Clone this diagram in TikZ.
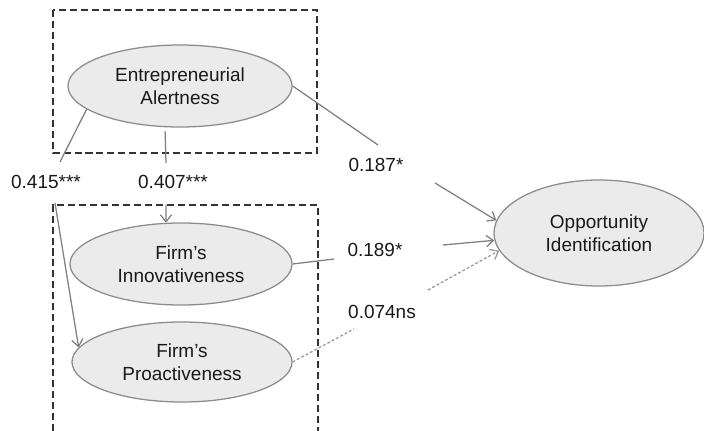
\documentclass[tikz,border=0pt]{standalone}
\usepackage{fontspec}
\setmainfont{Liberation Sans}
\usetikzlibrary{arrows.meta,shapes.geometric}

\begin{document}
\begin{tikzpicture}[x=0.025cm,y=-0.025cm,
  >={Straight Barb[length=5pt,width=8pt]},
  font=\fontsize{13.5}{16.3}\selectfont,
  construct/.style={ellipse,draw=black!45,fill=black!8,line width=0.9pt,text=black!90,align=center,inner sep=0pt},
  frame/.style={draw=black!80,line width=1.4pt,dash pattern=on 5pt off 2.8pt},
  link/.style={draw=black!50,line width=0.9pt},
  nslink/.style={draw=black!40,line width=0.9pt,dash pattern=on 2pt off 1.5pt},
  coef/.style={text=black!90,inner sep=0pt}]
\useasboundingbox (0,0) rectangle (704,431);
% group frames
\draw[frame] (53,10) rectangle (317,153);
\draw[frame] (53,431) -- (53,205) -- (318,205) -- (318,431);
% constructs
\node[construct,minimum width=5.6cm,minimum height=2.05cm]  (EA) at (180,86)  {Entrepreneurial\\Alertness};
\node[construct,minimum width=5.55cm,minimum height=2.05cm] (FI) at (181,264) {Firm's\\Innovativeness};
\node[construct,minimum width=5.5cm,minimum height=2cm]     (FP) at (182,362) {Firm's\\Proactiveness};
\node[construct,minimum width=5.25cm,minimum height=2.65cm] (OI) at (599,233) {Opportunity\\Identification};
% path coefficients
\node[coef] (c_415) at (46,182)  {0.415***};
\node[coef] (c_407) at (173,182) {0.407***};
\node[coef] (c_187) at (376,165) {0.187*};
\node[coef] (c_189) at (375,250) {0.189*};
\node[coef] (c_074) at (382,312) {0.074ns};
% breaks round the coefficients
\coordinate (p_415a) at (60,162);  \coordinate (p_415b) at (55,203);
\coordinate (p_407a) at (166,163); \coordinate (p_407b) at (166,205);
\coordinate (p_187a) at (378,145); \coordinate (p_187b) at (435,183);
\coordinate (p_189a) at (334,259); \coordinate (p_189b) at (443,245);
\coordinate (p_074a) at (354,329); \coordinate (p_074b) at (428,290);
\path
  (EA.194)  edge [link]            (p_415a)
  (p_415b)  edge [link,->]         (FP.172)
  (EA.250)  edge [link,shorten <=3pt] (p_407a)
  (p_407b)  edge [link,->]         (FI.110)
  (EA.east) edge [link]            (p_187a)
  (p_187b)  edge [link,->]         (OI.173)
  (FI.east) edge [link]            (p_189a)
  (p_189b)  edge [link,->]         (OI.184)
  (FP.east) edge [nslink]          (p_074a)
  (p_074b)  edge [nslink,->]       (OI.190);
\end{tikzpicture}
\end{document}
